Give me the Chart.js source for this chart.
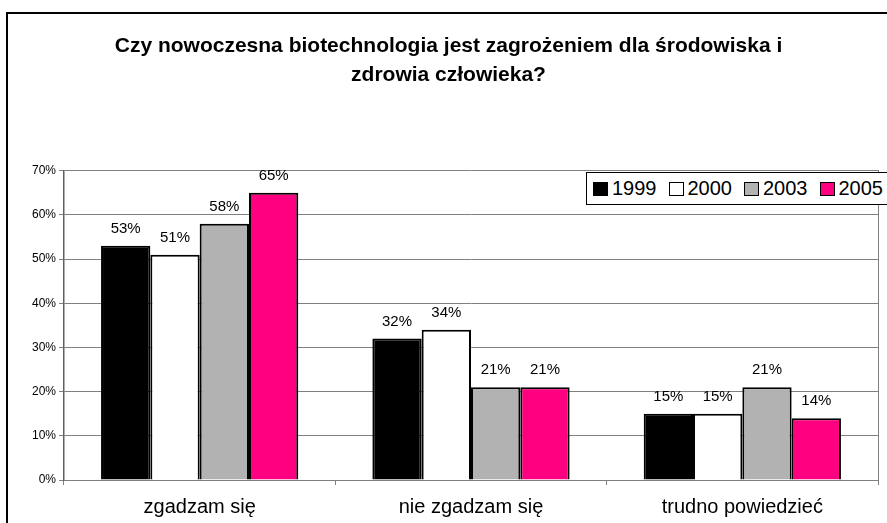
<!DOCTYPE html>
<html><head><meta charset="utf-8">
<script src="https://cdn.jsdelivr.net/npm/chart.js@4.4.1/dist/chart.umd.min.js"></script>
<style>
html,body{margin:0;padding:0;background:#fff;overflow:hidden;}
#wrap{position:relative;width:887px;height:523px;overflow:hidden;background:#fff;}
#frame{position:absolute;left:6px;top:12px;width:1000px;height:1000px;border:2px solid #000;box-sizing:border-box;}
#c{position:absolute;left:0;top:0;}
#legend{position:absolute;left:586px;top:172px;width:400px;height:33px;border:1px solid #000;box-sizing:border-box;background:#fff;display:flex;align-items:center;padding-left:6px;font-family:'Liberation Sans',Arial,sans-serif;font-size:20px;color:#000;}
.item{display:flex;align-items:center;margin-right:12px;white-space:nowrap;}
.sw{width:15px;height:14px;border:1.5px solid #000;box-sizing:border-box;margin-right:4px;}
</style></head>
<body>
<div id="wrap">
  <div id="frame"></div>
  <canvas id="c" width="887" height="523"></canvas>
  <div id="legend"></div>
</div>
<script>
const titleLines = ["Czy nowoczesna biotechnologia jest zagrożeniem dla środowiska i", "zdrowia człowieka?"];
const categories = ["zgadzam się", "nie zgadzam się", "trudno powiedzieć"];
const seriesNames = ["1999", "2000", "2003", "2005"];
const seriesColors = ["#000000", "#FFFFFF", "#B2B2B2", "#FF0080"];
const values1999 = [53, 32, 15];
const values2000 = [51, 34, 15];
const values2003 = [58, 21, 21];
const values2005 = [65, 21, 14];
const yTicks = [0, 10, 20, 30, 40, 50, 60, 70];

const seriesValues = [values1999, values2000, values2003, values2005];
const FONT = "'Liberation Sans', Arial, sans-serif";

// HTML legend
const leg = document.getElementById('legend');
seriesNames.forEach((n, i) => {
  const it = document.createElement('div'); it.className = 'item';
  const sw = document.createElement('div'); sw.className = 'sw'; sw.style.background = seriesColors[i];
  const tx = document.createElement('span'); tx.textContent = n;
  it.appendChild(sw); it.appendChild(tx); leg.appendChild(it);
});

const valueLabels = {
  id: 'valueLabels',
  afterDatasetsDraw(chart) {
    const ctx = chart.ctx;
    ctx.save();
    ctx.font = "15px " + FONT;
    ctx.fillStyle = "#000";
    ctx.textAlign = "center";
    ctx.textBaseline = "alphabetic";
    chart.data.datasets.forEach((ds, i) => {
      chart.getDatasetMeta(i).data.forEach((el, j) => {
        ctx.fillText(ds.data[j] + "%", el.x, el.y - 13);
      });
    });
    ctx.restore();
  }
};

new Chart(document.getElementById('c'), {
  type: 'bar',
  data: {
    labels: categories,
    datasets: seriesNames.map((n, i) => ({
      label: n,
      data: seriesValues[i],
      backgroundColor: seriesColors[i],
      borderColor: "#000",
      borderWidth: 2,
      borderSkipped: 'start',
      barPercentage: 1.0,
      categoryPercentage: 0.727
    }))
  },
  options: {
    responsive: false,
    animation: false,
    devicePixelRatio: 1,
    layout: { padding: { left: 10, right: 0, top: 0, bottom: 0 } },
    plugins: {
      legend: { display: false },
      tooltip: { enabled: false },
      title: {
        display: true,
        text: titleLines,
        color: "#000",
        font: { family: FONT, size: 21, weight: 'bold', lineHeight: 1.381 },
        padding: { top: 31.7, bottom: 81 }
      }
    },
    scales: {
      x: {
        offset: true,
        grid: { offset: true, drawOnChartArea: false, drawTicks: true, tickLength: 5, color: "#808080" },
        border: { display: true, color: "#808080", width: 1 },
        ticks: { color: "#000", font: { family: FONT, size: 20 }, padding: 10, maxRotation: 0 },
        afterFit(s) { s.height = 43; }
      },
      y: {
        min: 0, max: 70,
        afterBuildTicks(s) { s.ticks = yTicks.map(v => ({ value: v })); },
        grid: { color: "#808080", lineWidth: 1, tickLength: 5 },
        border: { display: true, color: "#606060", width: 1.5 },
        ticks: { color: "#000", font: { family: FONT, size: 12 }, padding: 3, callback: v => v + "%" },
        afterFit(s) { s.width = 54; }
      },
      y2: {
        position: 'right',
        min: 0, max: 70,
        grid: { display: false },
        border: { display: true, color: "#808080", width: 1 },
        ticks: { display: false },
        afterFit(s) { s.width = 9; }
      }
    }
  },
  plugins: [valueLabels]
});
</script>
</body></html>
